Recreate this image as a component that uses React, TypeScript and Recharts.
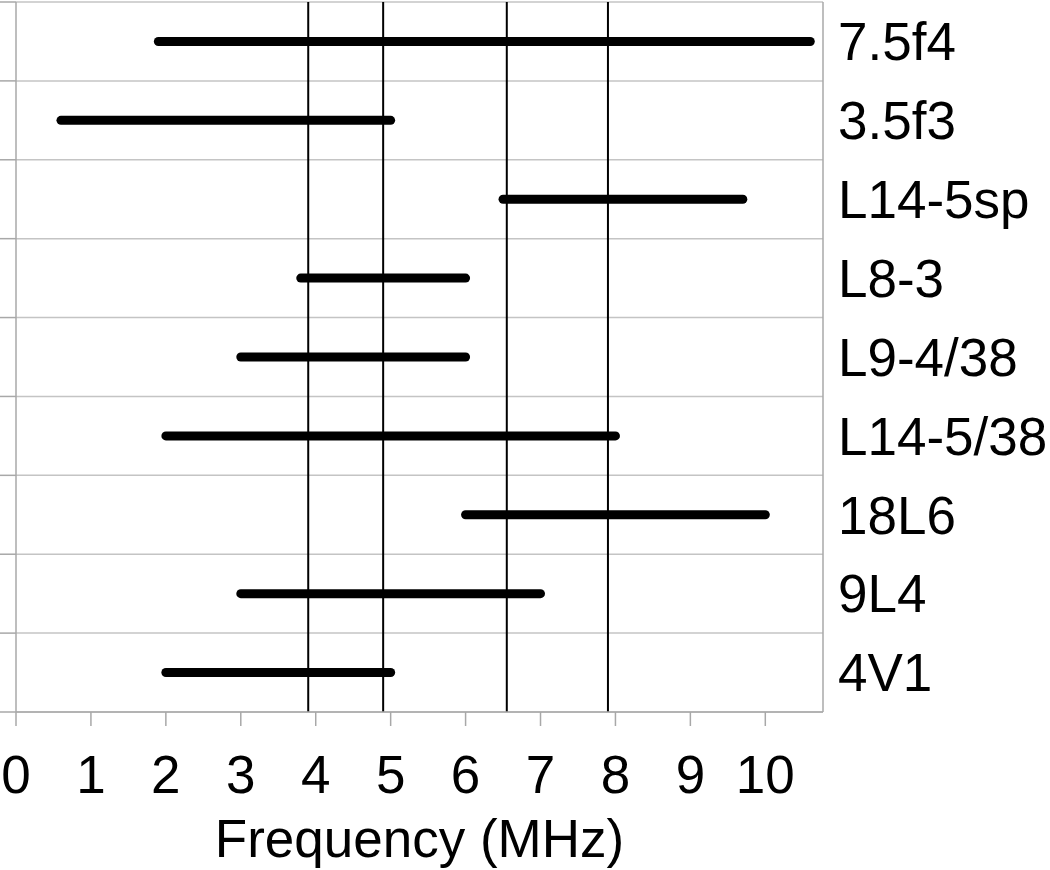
import React from 'react'
import {
  ComposedChart,
  Scatter,
  XAxis,
  YAxis,
  CartesianGrid,
  ReferenceLine,
} from 'recharts'

// transducers listed top to bottom
const probes = ['7.5f4', '3.5f3', 'L14-5sp', 'L8-3', 'L9-4/38', 'L14-5/38', '18L6', '9L4', '4V1']
// usable bandwidth in MHz
const lowFreq = [1.9, 0.6, 6.5, 3.8, 3.0, 2.0, 6.0, 3.0, 2.0]
const highFreq = [10.6, 5.0, 9.7, 6.0, 6.0, 8.0, 10.0, 7.0, 5.0]
// vertical marker frequencies
const markers = [3.9, 4.9, 6.55, 7.9]
const xTicks = [0, 1, 2, 3, 4, 5, 6, 7, 8, 9, 10]

const rows = probes.length
const rowCenter = (i: number) => rows - i - 0.5
const gridTicks = Array.from({ length: rows + 1 }, (_, i) => i)
const labelTicks = probes.map((_, i) => rowCenter(i))

const FONT = '"Liberation Sans", Arial, Helvetica, sans-serif'
const GRAY = '#a8a8a8'

const NoDot = () => <g />

export default function App() {
  return (
    <div style={{ width: 1050, height: 870, fontFamily: FONT }}>
      <style>{`body { margin: 0; }`}</style>
      <ComposedChart
        width={1050}
        height={870}
        margin={{ top: 2, right: 0, bottom: 0, left: 0 }}
      >
        <CartesianGrid horizontal vertical={false} stroke="#c4c4c4" strokeWidth={1.5} />
        <XAxis
          type="number"
          dataKey="x"
          domain={[0, 10.77]}
          ticks={xTicks}
          allowDataOverflow
          height={158}
          stroke={GRAY}
          strokeWidth={1.5}
          tickSize={14}
          tickMargin={29}
          tick={{ fill: '#000', fontSize: 53, fontFamily: FONT }}
          label={{
            value: 'Frequency (MHz)',
            position: 'insideBottom',
            offset: 13,
            fill: '#000',
            fontSize: 53,
            fontFamily: FONT,
          }}
        />
        <YAxis
          type="number"
          dataKey="y"
          domain={[0, rows]}
          ticks={gridTicks}
          allowDataOverflow
          width={16}
          stroke={GRAY}
          strokeWidth={1.5}
          tickSize={16}
          tickFormatter={() => ''}
        />
        <YAxis
          yAxisId="labels"
          orientation="right"
          type="number"
          dataKey="y"
          domain={[0, rows]}
          ticks={labelTicks}
          allowDataOverflow
          width={227}
          stroke={GRAY}
          strokeWidth={1.5}
          tickLine={false}
          tickSize={0}
          tickMargin={15}
          tickFormatter={(v: number) => probes[Math.round(rows - 0.5 - v)]}
          tick={{ fill: '#000', fontSize: 53, fontFamily: FONT, textAnchor: 'start' }}
        />
        {markers.map((m) => (
          <ReferenceLine key={m} x={m} stroke="#000" strokeWidth={2} />
        ))}
        {probes.map((name, i) => (
          <Scatter
            key={name}
            name={name}
            data={[
              { x: lowFreq[i], y: rowCenter(i) },
              { x: highFreq[i], y: rowCenter(i) },
            ]}
            shape={NoDot}
            line={{ stroke: '#000', strokeWidth: 9, strokeLinecap: 'round' }}
            isAnimationActive={false}
          />
        ))}
        {/* invisible series so the label axis gets a scale */}
        <Scatter
          yAxisId="labels"
          name="labels"
          data={probes.map((_, i) => ({ x: lowFreq[i], y: rowCenter(i) }))}
          shape={NoDot}
          isAnimationActive={false}
        />
      </ComposedChart>
    </div>
  )
}
